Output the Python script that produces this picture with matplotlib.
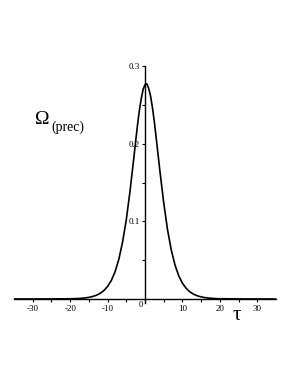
import matplotlib
matplotlib.use("Agg")
import matplotlib.pyplot as plt

tau = [-35, -30, -25, -20, -19, -18, -17, -16, -15, -14, -13, -12, -11, -10, -9, -8, -7, -6, -5, -4,
       -3, -2.5, -2, -1.5, -1, -0.5, 0, 0.5, 1, 1.5, 2, 2.5, 3, 4, 5, 6, 7, 8, 9, 10, 11, 12, 13, 14,
       15, 16, 17, 18, 19, 20, 25, 30, 35]
omega = [0.0, 0.0, 0.0001, 0.0003, 0.0004, 0.0006, 0.0009, 0.0014, 0.0021, 0.0032, 0.0048, 0.0072,
         0.0108, 0.0161, 0.0238, 0.035, 0.051, 0.0731, 0.102, 0.139,
         0.181, 0.203, 0.224, 0.243, 0.258, 0.270, 0.276, 0.277, 0.271, 0.261, 0.246, 0.228, 0.207,
         0.164, 0.124, 0.0898, 0.0635, 0.044, 0.030, 0.0203, 0.0137, 0.0092, 0.0061, 0.0041,
         0.0027, 0.0018, 0.0012, 0.0008, 0.0005, 0.00035, 0.0001, 0.0, 0.0]

xticks = [-30, -20, -10, 0, 10, 20, 30]
xminor = [-25, -15, -5, 5, 15, 25]
yticks = [0.1, 0.2, 0.3]
yminor = [0.05, 0.15, 0.25]

plt.rcParams['font.family'] = ['Liberation Serif', 'DejaVu Serif']

fig = plt.figure(figsize=(2.98, 3.85), dpi=100)
ax = fig.add_axes([14/298, 1-299/385, 262/298, 233/385])
ax.plot(tau, omega, color='black', lw=1.2)
ax.set_xlim(-35, 35)
ax.set_ylim(0, 0.3)

for s in ['top', 'right']:
    ax.spines[s].set_visible(False)
ax.spines['left'].set_position(('data', 0))
ax.spines['left'].set_bounds(-0.005, 0.3)
ax.spines['bottom'].set_position(('data', 0))
ax.spines['left'].set_linewidth(1.0)
ax.spines['bottom'].set_linewidth(1.0)

ax.set_xticks(xticks + xminor)
ax.set_xticklabels([str(t) if t != 0 else '' for t in xticks] + [''] * len(xminor))
ax.set_yticks(yticks + yminor)
ax.set_yticklabels([f'{v:.1f}' for v in yticks] + [''] * len(yminor))
ax.tick_params(axis='x', direction='out', length=2.5, width=0.8, labelsize=6.5, pad=2)
ax.tick_params(axis='y', direction='out', length=2.5, width=0.8, labelsize=6.5, pad=1)

ax.text(-0.4, -0.003, '0', ha='right', va='top', fontsize=6.5)

fig.text(35/298, 1-120/385, 'Ω', fontsize=14, ha='left', va='center')
fig.text(51/298, 1-127.5/385, '(prec)', fontsize=10, ha='left', va='center')
fig.text(237/298, 1-316/385, 'τ', fontsize=15, ha='center', va='center')

fig.savefig('out.png', dpi=100)
